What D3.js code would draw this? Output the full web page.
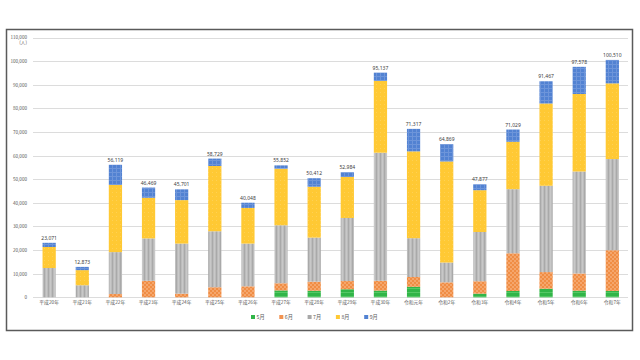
<!DOCTYPE html>
<html><head><meta charset="utf-8">
<script src="https://cdn.jsdelivr.net/npm/d3@7"></script>
<style>html,body{margin:0;padding:0;background:#fff;}svg{display:block;}</style>
</head><body>
<svg id="c" width="640" height="360"></svg>
<script>
const categories = ["平成20年","平成21年","平成22年","平成23年","平成24年","平成25年","平成26年","平成27年","平成28年","平成29年","平成30年","令和元年","令和2年","令和3年","令和4年","令和5年","令和6年","令和7年"];
const seriesNames = ["5月","6月","7月","8月","9月"];
const may  = [0,0,0,0,0,0,0,2904,2788,3401,2844,4448,0,1550,2668,3647,2799,2700];
const june = [0,0,1387,6980,1550,4265,4650,3032,3820,3481,4151,4151,6336,5250,15969,7031,7275,17229];
const july = [12400,5100,17750,17963,21200,23699,18100,24567,18671,26702,54220,16431,8388,20850,27150,36549,43195,38600];
const aug  = [8900,6400,28448,17202,18400,27632,15100,23925,21550,17360,30410,36755,42789,17700,20069,34835,32806,32050];
const sep  = [1771,1373,8534,4324,4551,3133,2198,1424,3583,2040,3512,9532,7356,2527,5173,9405,11503,9931];
const totalLabels = ["23,071","12,873","56,119","46,469","45,701","58,729","40,048","55,852","50,412","52,984","95,137","71,317","64,869","47,877","71,029","91,467","97,578","100,510"];
const yTicks = [0,10000,20000,30000,40000,50000,60000,70000,80000,90000,100000,110000];
const unitLabel = "(人)";

const svg = d3.select("#c");
const defs = svg.append("defs");
function pat(id, base, draw){
  const p = defs.append("pattern").attr("id",id).attr("patternUnits","userSpaceOnUse").attr("width",4).attr("height",4);
  p.append("rect").attr("width",4).attr("height",4).attr("fill",base);
  draw(p);
}
pat("p5","#31b548",p=>{p.append("rect").attr("y",0).attr("width",4).attr("height",1).attr("fill","#55c866");});
pat("p6","#f5a66c",p=>{p.append("rect").attr("x",0).attr("y",0).attr("width",2).attr("height",2).attr("fill","#f08d44");p.append("rect").attr("x",2).attr("y",2).attr("width",2).attr("height",2).attr("fill","#f08d44");});
pat("p7","#bcbcbc",p=>{p.append("rect").attr("x",0).attr("width",1).attr("height",4).attr("fill","#a9a9a9");p.append("rect").attr("x",2).attr("width",1).attr("height",4).attr("fill","#c8c8c8");});
pat("p8","#ffc934",p=>{p.append("rect").attr("x",0).attr("y",0).attr("width",1).attr("height",1).attr("fill","#ffd154");});
pat("p9","#5282d2",p=>{p.append("rect").attr("x",0).attr("width",4).attr("height",1).attr("fill","#6d95da");p.append("rect").attr("x",0).attr("width",1).attr("height",4).attr("fill","#6d95da");});
const fills = ["url(#p5)","url(#p6)","url(#p7)","url(#p8)","url(#p9)"];
const legendColors = ["#31b548","#f29250","#a8a8a8","#ffc934","#5282d2"];

// frame
svg.append("rect").attr("x",6.5).attr("y",29.5).attr("width",626).attr("height",301).attr("fill","#fff").attr("stroke","#5a5a5a").attr("stroke-width",1.5);

const x = d3.scaleBand().domain(categories).range([32.6,628.9]).paddingInner(0.6).paddingOuter(0.3);
const y = d3.scaleLinear().domain([0,110000]).range([297.3,37.5]);

// gridlines
svg.append("g").selectAll("line").data(yTicks).join("line")
  .attr("x1",33).attr("x2",628).attr("y1",d=>Math.round(y(d))+0.5).attr("y2",d=>Math.round(y(d))+0.5)
  .attr("stroke","#dcdcdc").attr("stroke-width",1);

// y axis labels
const yAxis = d3.axisLeft(y).tickValues(yTicks).tickSize(0).tickPadding(0).tickFormat(d3.format(","));
const ya = svg.append("g").attr("transform","translate(27,0)").call(yAxis);
ya.select(".domain").remove();
ya.selectAll("text").attr("font-family","'Noto Sans CJK JP','Noto Sans',sans-serif").attr("font-size",4.6).attr("fill","#595959");
svg.append("text").attr("x",27).attr("y",y(110000)+6.5).attr("text-anchor","end")
  .attr("font-family","'Noto Sans CJK JP',sans-serif").attr("font-size",4.6).attr("fill","#595959").text(unitLabel);

// stacked data
const rows = categories.map((c,i)=>({cat:c,"5月":may[i],"6月":june[i],"7月":july[i],"8月":aug[i],"9月":sep[i]}));
const stack = d3.stack().keys(seriesNames)(rows);
svg.append("g").selectAll("g").data(stack).join("g").attr("fill",(d,i)=>fills[i])
  .selectAll("rect").data(d=>d).join("rect")
  .attr("x",d=>x(d.data.cat)).attr("width",x.bandwidth())
  .attr("y",d=>y(d[1])).attr("height",d=>Math.max(0,y(d[0])-y(d[1])));

// total labels
const totals = rows.map(r=>seriesNames.reduce((s,k)=>s+r[k],0));
svg.append("g").selectAll("text").data(categories).join("text")
  .attr("x",d=>x(d)+x.bandwidth()/2).attr("y",(d,i)=>y(totals[i])-3)
  .attr("text-anchor","middle").attr("font-family","'Noto Sans','Noto Sans CJK JP',sans-serif")
  .attr("font-size",5).attr("fill","#404040").text((d,i)=>totalLabels[i]);

// x axis labels
const xAxis = d3.axisBottom(x).tickSize(0).tickPadding(0);
const xa = svg.append("g").attr("transform","translate(0,300.5)").call(xAxis);
xa.select(".domain").remove();
xa.selectAll("text").attr("font-family","'Noto Sans CJK JP',sans-serif").attr("font-size",4.8).attr("fill","#595959");

// legend
const lg = svg.append("g").selectAll("g").data(seriesNames).join("g")
  .attr("transform",(d,i)=>`translate(${251+i*28.3},315)`);
lg.append("rect").attr("width",4).attr("height",4).attr("fill",(d,i)=>legendColors[i]);
lg.append("text").attr("x",5.5).attr("y",4).attr("font-family","'Noto Sans CJK JP',sans-serif")
  .attr("font-size",5.2).attr("fill","#595959").text(d=>d);
</script>
</body></html>
